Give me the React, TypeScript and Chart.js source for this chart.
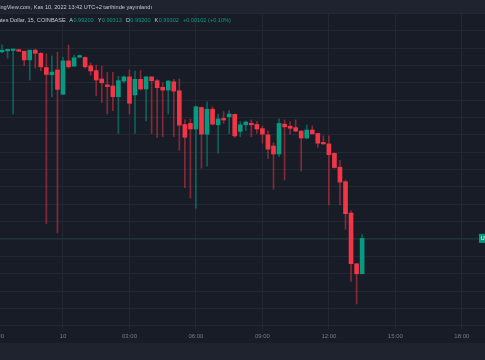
import React, { useEffect, useRef } from "react";
import { Chart, registerables } from "chart.js";

Chart.register(...registerables);

// 15-minute candles, index 0 = 21:00 (Nov 9), index 66 = 13:30 (Nov 10)
const candleIndex = [
  1, 2, 3, 4, 5, 6, 7, 8, 9, 10, 11, 12, 13, 14, 15, 16, 17, 18, 19, 20, 21, 22,
  23, 24, 25, 26, 27, 28, 29, 30, 31, 32, 33, 34, 35, 36, 37, 38, 39, 40, 41, 42,
  43, 44, 45, 46, 47, 48, 49, 50, 51, 52, 53, 54, 55, 56, 57, 58, 59, 60, 61, 62,
  63, 64, 65, 66,
];
const opens = [
  0.99839, 0.99842, 0.99843, 0.99844, 0.99841, 0.99816, 0.99844, 0.99835, 0.99794, 0.99773,
  0.99787, 0.99717, 0.99813, 0.99798, 0.99824, 0.99823, 0.99799, 0.99785, 0.99761, 0.99744,
  0.99741, 0.9971, 0.99755, 0.99767, 0.99715, 0.9976, 0.99732, 0.99767, 0.99756, 0.99737,
  0.99729, 0.99753, 0.99727, 0.9963, 0.99633, 0.99617, 0.99679, 0.99602, 0.99674, 0.99629,
  0.99646, 0.99652, 0.99659, 0.9961, 0.99629, 0.99633, 0.9963, 0.99618, 0.996, 0.99568,
  0.99545, 0.99631, 0.99625, 0.99621, 0.99611, 0.99591, 0.99614, 0.99604, 0.99577, 0.99574,
  0.99547, 0.99507, 0.99465, 0.99375, 0.99229, 0.992,
];
const highs = [
  0.99859, 0.99847, 0.99846, 0.99846, 0.99841, 0.99844, 0.99847, 0.99837, 0.99833, 0.99828,
  0.99838, 0.99823, 0.99859, 0.9983, 0.99831, 0.99825, 0.99807, 0.99801, 0.99798, 0.9978,
  0.9978, 0.99769, 0.99769, 0.99787, 0.99784, 0.99785, 0.99768, 0.99768, 0.9976, 0.9975,
  0.99757, 0.9976, 0.99761, 0.99643, 0.99645, 0.99683, 0.9968, 0.99695, 0.99681, 0.9966,
  0.99667, 0.9967, 0.9966, 0.99638, 0.9964, 0.99643, 0.99638, 0.99625, 0.99612, 0.99577,
  0.99646, 0.99643, 0.99638, 0.99643, 0.99612, 0.99628, 0.99626, 0.99605, 0.99597, 0.99597,
  0.99548, 0.99527, 0.9947, 0.99381, 0.99229, 0.99313,
];
const lows = [
  0.99837, 0.99821, 0.9966, 0.9984, 0.99799, 0.99758, 0.99792, 0.99785, 0.99345, 0.9971,
  0.99318, 0.99716, 0.99792, 0.99797, 0.99823, 0.99792, 0.99772, 0.99713, 0.99693, 0.9966,
  0.9967, 0.99604, 0.9975, 0.9966, 0.99604, 0.99729, 0.9964, 0.99604, 0.99593, 0.99595,
  0.9966, 0.99595, 0.99556, 0.99448, 0.99418, 0.99389, 0.99504, 0.9951, 0.99628, 0.99547,
  0.99633, 0.99604, 0.99593, 0.99595, 0.99612, 0.99595, 0.99604, 0.99576, 0.99532, 0.99443,
  0.99537, 0.9947, 0.99602, 0.99609, 0.99496, 0.99589, 0.99602, 0.99564, 0.99573, 0.99398,
  0.99504, 0.99398, 0.99328, 0.99178, 0.99113, 0.992,
];
const closes = [
  0.99844, 0.99846, 0.99844, 0.99841, 0.99816, 0.99844, 0.99835, 0.99796, 0.99774, 0.99781,
  0.99731, 0.99813, 0.99796, 0.99822, 0.99826, 0.99796, 0.99784, 0.99758, 0.9975, 0.99739,
  0.9971, 0.99756, 0.99767, 0.99691, 0.9976, 0.99732, 0.99767, 0.99756, 0.99736, 0.99729,
  0.99755, 0.99726, 0.99628, 0.99593, 0.99617, 0.99681, 0.99602, 0.99674, 0.99631, 0.99646,
  0.99643, 0.9966, 0.99597, 0.99629, 0.99637, 0.99629, 0.99617, 0.99602, 0.99559, 0.99545,
  0.99633, 0.99623, 0.99619, 0.99611, 0.99591, 0.99614, 0.99603, 0.99576, 0.99574, 0.99543,
  0.99506, 0.99464, 0.99373, 0.99229, 0.992, 0.99302,
];

const timeTickIndex = [0, 12, 24, 36, 48, 60, 72, 84];
const timeTickLabels = ["21:00", "10", "03:00", "06:00", "09:00", "12:00", "15:00", "18:00"];
const priceGridLevels = [
  0.9905, 0.991, 0.9915, 0.992, 0.9925, 0.993, 0.9935, 0.994, 0.9945, 0.995, 0.9955, 0.996,
  0.9965, 0.997, 0.9975, 0.998, 0.9985, 0.999, 0.9995,
];
const lastPrice = 0.99302;

const headerLine = "TradingView.com, Kas 10, 2022 13:42 UTC+2 tarihinde yayınlandı";
const headerCutPrefix = "Tradi";
const symbolTitle = "Tether / United States Dollar, 15, COINBASE";
const symbolCutPrefix = "Tether / United Sta";
const ohlcLabels = ["A", "Y", "D", "K"];
const ohlcValues = ["0.99200", "0.99313", "0.99200", "0.99302"];
const changeText = "+0.00102 (+0.10%)";
const badgeText = "USDTUSD";

const X_MIN = 0.63;
const X_MAX = 88.18;
const Y_MIN = 0.99041;
const Y_MAX = 0.99951;

const UP = "#089981";
const DOWN = "#f23645";
const UP_WICK = "rgba(8,153,129,0.55)";
const DOWN_WICK = "rgba(242,54,69,0.5)";
const BG = "#181c27";
const BAND = "#1f2330";
const GRID = "#232733";
const TEXT = "#c3c6ce";
const FONT = "'Liberation Sans', Arial, sans-serif";

const decorPlugin = {
  id: "decor",
  beforeDraw(chart: any) {
    const { ctx, width, height } = chart;
    ctx.save();
    ctx.fillStyle = BG;
    ctx.fillRect(0, 0, width, height);
    ctx.fillStyle = BAND;
    ctx.fillRect(0, 0, width, 13);
    ctx.fillRect(0, 343, width, height - 343);
    ctx.restore();
  },
  beforeDatasetsDraw(chart: any) {
    const { ctx, chartArea } = chart;
    const y = Math.round(chart.scales.y.getPixelForValue(lastPrice)) + 0.5;
    ctx.save();
    ctx.strokeStyle = "rgba(8,153,129,0.2)";
    ctx.lineWidth = 1;
    ctx.beginPath();
    ctx.moveTo(chartArea.left, y);
    ctx.lineTo(chartArea.right, y);
    ctx.stroke();
    ctx.restore();
  },
  afterDraw(chart: any) {
    const { ctx } = chart;
    const xs = chart.scales.x;
    ctx.save();
    ctx.font = `6px ${FONT}`;
    ctx.textBaseline = "middle";
    // out-of-range time labels (partially visible)
    ctx.fillStyle = "#787b86";
    ctx.textAlign = "center";
    timeTickIndex.forEach((v, i) => {
      if (v < X_MIN || v > X_MAX) {
        ctx.fillText(timeTickLabels[i], xs.getPixelForValue(v), 336.5);
      }
    });
    ctx.textAlign = "left";
    // fit header font so the visible part spans 0..152
    const full = ctx.measureText(headerLine).width;
    const cut = ctx.measureText(headerCutPrefix).width;
    const size = (6 * 152) / (full - cut);
    ctx.font = `${size.toFixed(2)}px ${FONT}`;
    ctx.fillStyle = TEXT;
    const w1 = ctx.measureText(headerLine).width;
    ctx.fillText(headerLine, 152 - w1, 7);
    // symbol title, cut at the left edge
    const wc = ctx.measureText(symbolCutPrefix).width;
    const titleX = 1 - wc;
    ctx.fillText(symbolTitle, titleX, 20);
    let x = titleX + ctx.measureText(symbolTitle).width + 3.5;
    ohlcLabels.forEach((lab, i) => {
      ctx.fillStyle = TEXT;
      ctx.fillText(lab, x, 20);
      x += ctx.measureText(lab).width + 0.3;
      ctx.fillStyle = UP;
      ctx.fillText(ohlcValues[i], x, 20);
      x += ctx.measureText(ohlcValues[i]).width + 4;
    });
    ctx.fillStyle = UP;
    ctx.fillText(changeText, x, 20);
    // price badge
    const yb = chart.scales.y.getPixelForValue(lastPrice);
    ctx.fillStyle = UP;
    ctx.fillRect(479, yb - 4.5, 40, 9);
    ctx.fillStyle = "#ffffff";
    ctx.font = `6px ${FONT}`;
    ctx.fillText(badgeText, 480.5, yb);
    ctx.restore();
  },
};

export default function App() {
  const ref = useRef<HTMLCanvasElement>(null);
  useEffect(() => {
    const canvas = ref.current;
    if (!canvas) return;
    const bodies = candleIndex.map((x, i) => ({ x, y: [opens[i], closes[i]] }));
    const wicks = candleIndex.map((x, i) => ({ x, y: [lows[i], highs[i]] }));
    const isUp = candleIndex.map((_, i) => closes[i] >= opens[i]);
    const chart = new Chart(canvas, {
      type: "bar",
      data: {
        datasets: [
          {
            label: "body",
            data: bodies as any,
            backgroundColor: isUp.map((u) => (u ? UP : DOWN)),
            barThickness: 4,
            grouped: false,
            order: 0,
            minBarLength: 1.5,
            borderWidth: 0,
          } as any,
          {
            label: "wick",
            data: wicks as any,
            backgroundColor: isUp.map((u) => (u ? UP_WICK : DOWN_WICK)),
            barThickness: 1,
            grouped: false,
            order: 1,
            borderWidth: 0,
          } as any,
        ],
      },
      plugins: [decorPlugin],
      options: {
        responsive: false,
        animation: false,
        devicePixelRatio: 1,
        layout: { padding: { top: 13, left: 0, right: 0, bottom: 0 } },
        plugins: { legend: { display: false }, tooltip: { enabled: false } },
        scales: {
          x: {
            type: "linear",
            min: X_MIN,
            max: X_MAX,
            offset: false,
            grid: { color: GRID, drawTicks: false, offset: false, lineWidth: 1 },
            border: { display: false },
            afterBuildTicks: (s: any) => {
              s.ticks = timeTickIndex
                .filter((v) => v >= X_MIN && v <= X_MAX)
                .map((v) => ({ value: v }));
            },
            afterFit: (s: any) => {
              s.height = 31;
            },
            ticks: {
              autoSkip: false,
              maxRotation: 0,
              padding: 4,
              color: "#787b86",
              font: { size: 6, family: FONT },
              callback: (v: any) => {
                const k = timeTickIndex.indexOf(Number(v));
                return k >= 0 ? timeTickLabels[k] : "";
              },
            },
          },
          y: {
            type: "linear",
            position: "right",
            min: Y_MIN,
            max: Y_MAX,
            grid: { color: GRID, drawTicks: false },
            border: { display: false },
            ticks: { display: false },
            afterBuildTicks: (s: any) => {
              s.ticks = priceGridLevels.map((v) => ({ value: v }));
            },
            afterFit: (s: any) => {
              s.width = 0;
            },
          },
        },
      } as any,
    });
    return () => chart.destroy();
  }, []);
  return (
    <div style={{ position: "fixed", left: 0, top: 0, width: 485, height: 360 }}>
      <canvas ref={ref} width={485} height={360} style={{ display: "block" }} />
    </div>
  );
}
